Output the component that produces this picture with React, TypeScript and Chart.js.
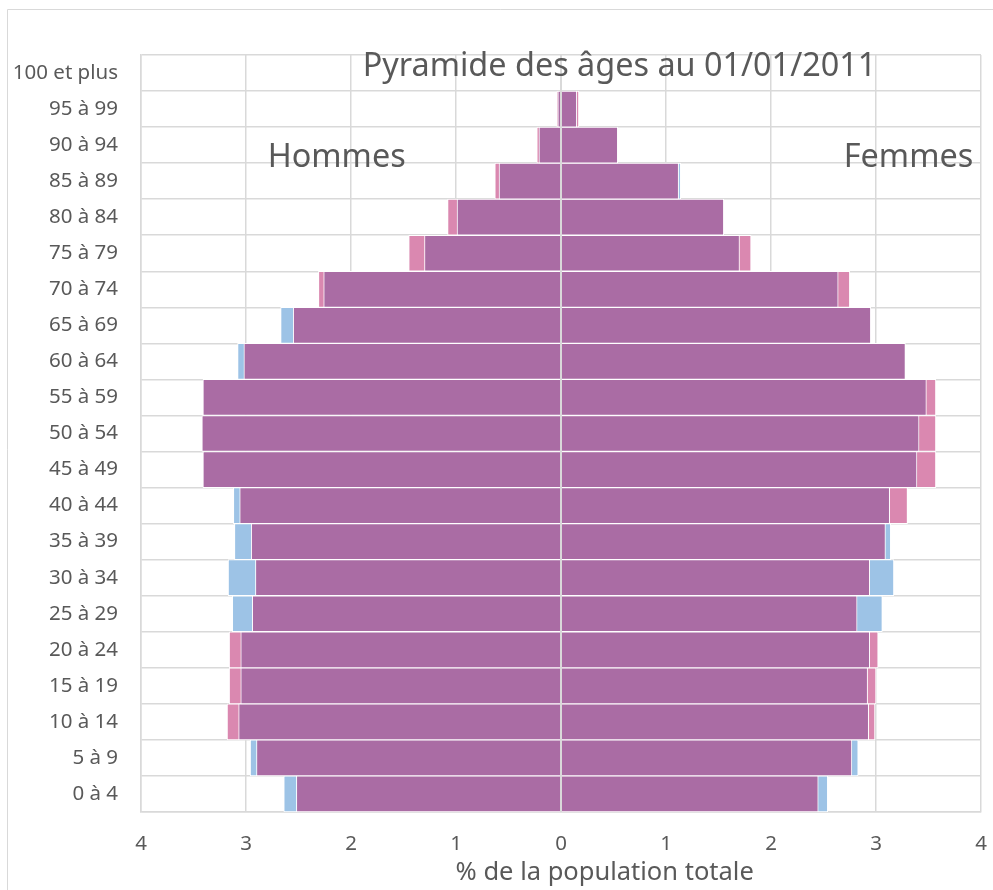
import React, { useEffect, useRef } from "react";
import { Chart, registerables } from "chart.js";

Chart.register(...registerables);

// Age groups, from youngest (bottom) to oldest (top)
const ageGroups = [
  "0 à 4", "5 à 9", "10 à 14", "15 à 19", "20 à 24", "25 à 29", "30 à 34",
  "35 à 39", "40 à 44", "45 à 49", "50 à 54", "55 à 59", "60 à 64", "65 à 69",
  "70 à 74", "75 à 79", "80 à 84", "85 à 89", "90 à 94", "95 à 99", "100 et plus",
];

// Hommes (% de la population totale)
const hommes = [2.52, 2.90, 3.07, 3.05, 3.05, 2.94, 2.91, 2.95, 3.06, 3.41, 3.42, 3.41, 3.02, 2.55, 2.26, 1.30, 0.99, 0.59, 0.21, 0.03, 0];
const hommesBleu = [2.64, 2.96, null, null, null, 3.13, 3.17, 3.11, 3.12, null, null, null, 3.08, 2.67, null, null, null, null, null, null, null];
const hommesRose = [null, null, 3.18, 3.16, 3.16, null, null, null, null, null, null, null, null, null, 2.31, 1.45, 1.08, 0.63, 0.23, 0.04, null];

// Femmes (% de la population totale)
const femmes = [2.45, 2.77, 2.93, 2.92, 2.94, 2.82, 2.94, 3.09, 3.13, 3.39, 3.41, 3.48, 3.28, 2.95, 2.64, 1.70, 1.55, 1.12, 0.54, 0.15, 0];
const femmesBleu = [2.54, 2.83, null, null, null, 3.06, 3.17, 3.14, null, null, null, null, null, null, null, null, null, 1.14, null, null, null];
const femmesRose = [null, null, 2.99, 3.00, 3.02, null, null, null, 3.30, 3.57, 3.57, 3.57, null, null, 2.75, 1.81, null, null, null, 0.17, null];

const xTicks = [-4, -3, -2, -1, 0, 1, 2, 3, 4];

const chartTitle = "Pyramide des âges au 01/01/2011";
const leftLabel = "Hommes";
const rightLabel = "Femmes";
const axisTitle = "% de la population totale";

const PURPLE = "#AA6CA4";
const BLUE = "#9DC3E6";
const PINK = "#DA88B0";
const GRID = "#D9D9D9";
const TEXT = "#595959";
const FONT = "'Noto Sans', sans-serif";

const neg = (arr: (number | null)[]) => arr.map((v) => (v == null ? null : -v));

const decor = {
  id: "decor",
  beforeDraw(chart: any) {
    const ctx = chart.ctx;
    ctx.save();
    ctx.strokeStyle = GRID;
    ctx.lineWidth = 1;
    ctx.beginPath();
    ctx.moveTo(7.5, 890);
    ctx.lineTo(7.5, 9.5);
    ctx.lineTo(993, 9.5);
    ctx.stroke();
    ctx.restore();
  },
  afterDatasetsDraw(chart: any) {
    const ctx = chart.ctx;
    const x = chart.scales.x.getPixelForValue(0);
    const { top, bottom } = chart.chartArea;
    ctx.save();
    ctx.strokeStyle = GRID;
    ctx.lineWidth = 2;
    ctx.beginPath();
    ctx.moveTo(x, top);
    ctx.lineTo(x, bottom);
    ctx.stroke();
    ctx.restore();
  },
  afterDraw(chart: any) {
    const ctx = chart.ctx;
    ctx.save();
    ctx.fillStyle = TEXT;
    ctx.textAlign = "center";
    ctx.textBaseline = "alphabetic";
    ctx.font = `32.4px ${FONT}`;
    ctx.fillText(chartTitle, 619.5, 76);
    ctx.fillText(leftLabel, 336.7, 167);
    ctx.fillText(rightLabel, 908.5, 167);
    ctx.font = `25.5px ${FONT}`;
    ctx.fillText(axisTitle, 604.7, 880);
    ctx.restore();
  },
};

export default function App() {
  const ref = useRef<HTMLCanvasElement>(null);

  useEffect(() => {
    Chart.defaults.font.family = FONT;
    const chart = new Chart(ref.current as HTMLCanvasElement, {
      type: "bar",
      data: {
        labels: ageGroups,
        datasets: [
          { label: "Hommes", data: neg(hommes), backgroundColor: PURPLE, order: 0 },
          { label: "Femmes", data: femmes, backgroundColor: PURPLE, order: 0 },
          { label: "Hommes (écart +)", data: neg(hommesBleu), backgroundColor: BLUE, order: 1 },
          { label: "Femmes (écart +)", data: femmesBleu, backgroundColor: BLUE, order: 1 },
          { label: "Hommes (écart -)", data: neg(hommesRose), backgroundColor: PINK, order: 1 },
          { label: "Femmes (écart -)", data: femmesRose, backgroundColor: PINK, order: 1 },
        ] as any,
      },
      options: {
        indexAxis: "y",
        animation: false,
        responsive: true,
        maintainAspectRatio: false,
        layout: { padding: { left: 8, right: 12, top: 55, bottom: 0 } },
        datasets: {
          bar: {
            grouped: false,
            barPercentage: 1,
            categoryPercentage: 1,
            borderColor: "#FFFFFF",
            borderWidth: 1,
          },
        } as any,
        plugins: {
          legend: { display: false },
          tooltip: { enabled: false },
          title: { display: false },
        },
        scales: {
          x: {
            type: "linear",
            min: xTicks[0],
            max: xTicks[xTicks.length - 1],
            afterBuildTicks: (scale: any) => {
              scale.ticks = xTicks.map((v) => ({ value: v }));
            },
            ticks: {
              callback: (v: any) => String(Math.abs(Number(v))),
              color: TEXT,
              font: { size: 20.5, family: FONT },
              padding: 20,
            },
            grid: { color: GRID, lineWidth: 1.5, drawTicks: false },
            border: { color: GRID, width: 1.5 },
            afterFit: (scale: any) => {
              scale.height = 78;
              scale.paddingLeft = 0;
              scale.paddingRight = 0;
            },
          },
          y: {
            reverse: true,
            ticks: {
              color: TEXT,
              font: { size: 20.5, family: FONT },
              padding: 23,
            },
            grid: { color: GRID, lineWidth: 1.5, drawTicks: false, offset: true },
            border: { color: GRID, width: 1.5 },
            afterFit: (scale: any) => {
              scale.width = 133;
              scale.paddingTop = 0;
              scale.paddingBottom = 0;
            },
          },
        } as any,
      },
      plugins: [decor],
    });
    return () => chart.destroy();
  }, []);

  return (
    <div style={{ position: "fixed", left: 0, top: 0, width: 993, height: 890, background: "#FFFFFF" }}>
      <canvas ref={ref} />
    </div>
  );
}
